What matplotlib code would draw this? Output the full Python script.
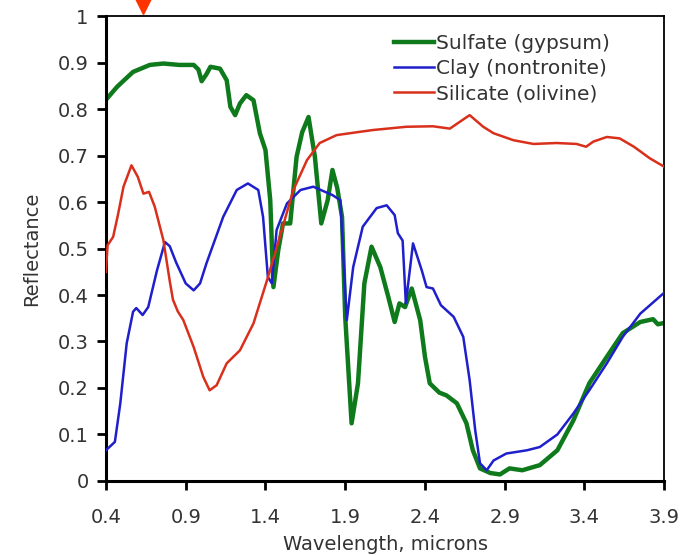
import numpy as np
import matplotlib
matplotlib.use("Agg")
import matplotlib.pyplot as plt

# 数据：光谱反射率
x_sulfate = [0.40, 0.47, 0.57, 0.675, 0.76, 0.86, 0.95, 0.98, 1.00, 1.03, 1.055, 1.115, 1.157,
             1.18, 1.21, 1.24, 1.28, 1.325, 1.365, 1.40, 1.43, 1.45, 1.48, 1.51, 1.555, 1.595,
             1.63, 1.67, 1.71, 1.75, 1.79, 1.82, 1.85, 1.88, 1.90, 1.94, 1.98, 2.02, 2.065,
             2.12, 2.17, 2.21, 2.24, 2.275, 2.317, 2.37, 2.40, 2.43, 2.49, 2.535, 2.60, 2.66,
             2.70, 2.745, 2.81, 2.87, 2.93, 3.01, 3.12, 3.23, 3.33, 3.43, 3.54, 3.64, 3.75,
             3.83, 3.86, 3.90]
y_sulfate = [0.82, 0.848, 0.88, 0.895, 0.898, 0.895, 0.895, 0.885, 0.86, 0.875, 0.891, 0.887, 0.862,
             0.805, 0.787, 0.812, 0.83, 0.819, 0.748, 0.712, 0.604, 0.417, 0.496, 0.554, 0.554, 0.697,
             0.75, 0.783, 0.697, 0.554, 0.604, 0.669, 0.63, 0.568, 0.353, 0.124, 0.21, 0.425, 0.504,
             0.46, 0.396, 0.342, 0.382, 0.374, 0.414, 0.346, 0.267, 0.21, 0.19, 0.184, 0.167, 0.124,
             0.066, 0.027, 0.017, 0.014, 0.027, 0.023, 0.034, 0.066, 0.13, 0.21, 0.267, 0.318, 0.342,
             0.348, 0.337, 0.34]

x_clay = [0.40, 0.456, 0.49, 0.53, 0.57, 0.59, 0.63, 0.665, 0.72, 0.77, 0.80, 0.84, 0.90, 0.95,
          0.99, 1.03, 1.135, 1.22, 1.29, 1.355, 1.385, 1.415, 1.44, 1.47, 1.535, 1.62, 1.70, 1.82,
          1.87, 1.886, 1.91, 1.95, 2.01, 2.097, 2.16, 2.21, 2.23, 2.26, 2.28, 2.325, 2.38, 2.41,
          2.45, 2.50, 2.58, 2.64, 2.68, 2.715, 2.745, 2.787, 2.83, 2.91, 3.04, 3.12, 3.23, 3.33,
          3.43, 3.54, 3.64, 3.75, 3.90]
y_clay = [0.066, 0.084, 0.167, 0.296, 0.364, 0.372, 0.357, 0.374, 0.453, 0.514, 0.505, 0.47, 0.425, 0.41,
          0.425, 0.468, 0.568, 0.626, 0.64, 0.626, 0.568, 0.439, 0.425, 0.54, 0.597, 0.626, 0.633, 0.615,
          0.604, 0.496, 0.346, 0.46, 0.547, 0.587, 0.593, 0.572, 0.533, 0.517, 0.382, 0.511, 0.453, 0.417,
          0.414, 0.378, 0.353, 0.31, 0.217, 0.109, 0.038, 0.023, 0.044, 0.059, 0.066, 0.073, 0.10, 0.145,
          0.195, 0.253, 0.31, 0.36, 0.405]

x_silicate = [0.40, 0.41, 0.445, 0.475, 0.51, 0.56, 0.60, 0.635, 0.67, 0.706, 0.76, 0.80, 0.82, 0.85,
              0.885, 0.95, 1.01, 1.05, 1.094, 1.157, 1.24, 1.325, 1.41, 1.49, 1.575, 1.66, 1.74,
              1.846, 1.99, 2.075, 2.285, 2.45, 2.556, 2.68, 2.765, 2.83, 2.955, 3.08, 3.226, 3.35,
              3.41, 3.455, 3.54, 3.62, 3.71, 3.81, 3.90]
y_silicate = [0.45, 0.507, 0.525, 0.572, 0.633, 0.679, 0.654, 0.618, 0.622, 0.59, 0.518, 0.43, 0.39, 0.365,
              0.346, 0.288, 0.224, 0.195, 0.206, 0.253, 0.281, 0.339, 0.432, 0.525, 0.626, 0.69, 0.727,
              0.744, 0.751, 0.755, 0.762, 0.763, 0.758, 0.787, 0.762, 0.748, 0.733, 0.725, 0.727, 0.725,
              0.719, 0.73, 0.74, 0.737, 0.719, 0.694, 0.676]

labels = ["Sulfate (gypsum)", "Clay (nontronite)", "Silicate (olivine)"]
x_ticks = [0.4, 0.9, 1.4, 1.9, 2.4, 2.9, 3.4, 3.9]
y_ticks = [0, 0.1, 0.2, 0.3, 0.4, 0.5, 0.6, 0.7, 0.8, 0.9, 1]
arrow_x = 0.63

text_color = "#333333"

fig = plt.figure(figsize=(6.97, 5.56), dpi=100)
ax = fig.add_axes([0.152, 0.135, 0.801, 0.836])

ax.plot(x_sulfate, y_sulfate, color="#0f7a1c", lw=3.2, solid_joinstyle="round", label=labels[0], zorder=2)
ax.plot(x_clay, y_clay, color="#1f1fcc", lw=1.8, solid_joinstyle="round", label=labels[1], zorder=3)
ax.plot(x_silicate, y_silicate, color="#d9301c", lw=1.8, solid_joinstyle="round", label=labels[2], zorder=4)

# 顶部红色箭头
ax.plot([arrow_x], [1.022], marker="v", color="#ff3300", markersize=12, clip_on=False, zorder=5)

ax.set_xlim(0.4, 3.9)
ax.set_ylim(0, 1)
ax.set_xticks(x_ticks)
ax.set_xticklabels([f"{v:g}" for v in x_ticks])
ax.set_yticks(y_ticks)
ax.set_yticklabels([f"{v:g}" for v in y_ticks])

ax.tick_params(direction="out", length=6.5, width=2, labelsize=14, colors="black", labelcolor=text_color)
ax.tick_params(axis="x", pad=13)
ax.tick_params(axis="y", pad=6)
for side in ["left", "bottom"]:
    ax.spines[side].set_linewidth(2.2)
for side in ["top", "right"]:
    ax.spines[side].set_linewidth(1.3)

ax.set_xlabel("Wavelength, microns", fontsize=14, color=text_color, labelpad=6)
ax.set_ylabel("Reflectance", fontsize=14, color=text_color, labelpad=12)

leg = ax.legend(loc="upper right", bbox_to_anchor=(0.935, 1.0), frameon=False, fontsize=14.5,
                handlelength=2.0, handletextpad=0.1, labelspacing=0.3)
for t in leg.get_texts():
    t.set_color(text_color)

plt.savefig("out.png", dpi=100)
